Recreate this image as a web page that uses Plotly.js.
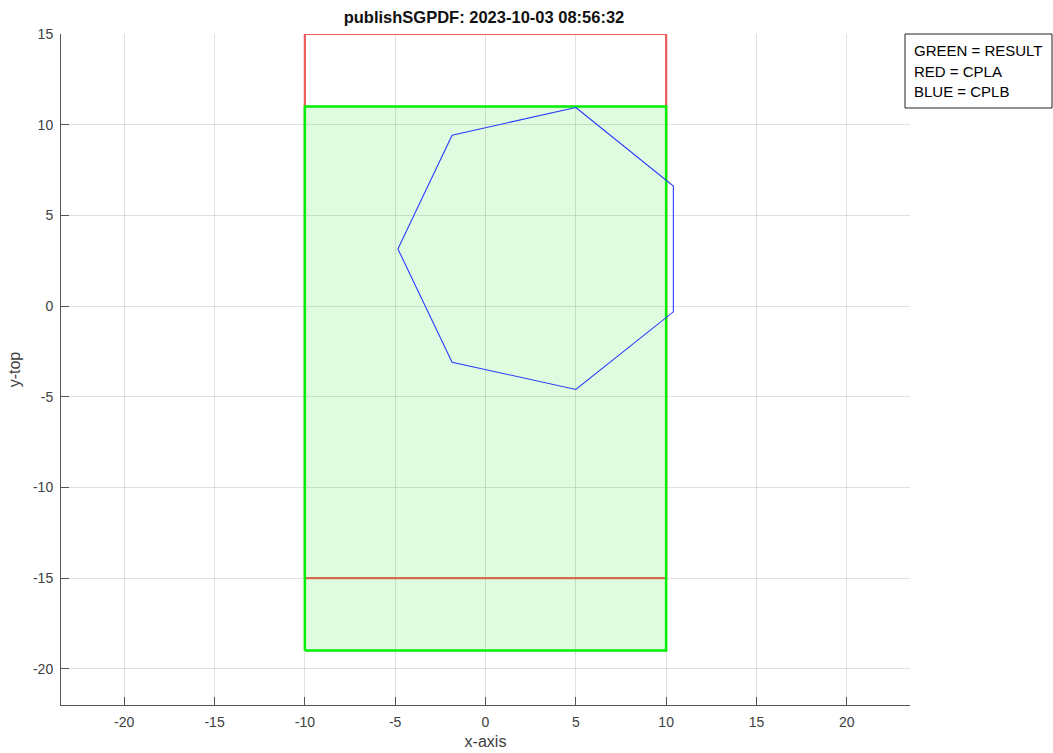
<!DOCTYPE html>
<html>
<head>
<meta charset="utf-8">
<script src="https://cdn.plot.ly/plotly-3.0.1.min.js"></script>
<style>html,body{margin:0;padding:0;background:#fff;}#chart{width:1053px;height:753px;}</style>
</head>
<body>
<div id="chart"></div>
<script>
// CPLA (red rectangle)
const redX = [-10, 10, 10, -10, -10];
const redY = [-15, -15, 15, 15, -15];
// RESULT (green rectangle)
const greenX = [-10, 10, 10, -10, -10];
const greenY = [-19, -19, 11, 11, -19];
// CPLB (blue heptagon)
const blueX = [5, 10.4, 10.4, 5, -1.85, -4.85, -1.85, 5];
const blueY = [10.95, 6.62, -0.32, -4.6, -3.1, 3.15, 9.42, 10.95];

const titleText = 'publishSGPDF: 2023-10-03 08:56:32';
const legendLines = ['GREEN = RESULT', 'RED = CPLA', 'BLUE = CPLB'];
const xTicks = [-20, -15, -10, -5, 0, 5, 10, 15, 20];
const yTicks = [-20, -15, -10, -5, 0, 5, 10, 15];

const FONT = 'Liberation Sans, Arial, Helvetica, sans-serif';

const traces = [
  {x: redX, y: redY, mode: 'lines', line: {color: '#ee5c5c', width: 2.2}, hoverinfo: 'skip'},
  {x: greenX, y: greenY, mode: 'lines', fill: 'toself', fillcolor: 'rgba(0,230,0,0.12)',
   line: {color: '#00ee00', width: 2.5}, hoverinfo: 'skip'},
  {x: blueX, y: blueY, mode: 'lines', line: {color: '#2a3cff', width: 1.1}, hoverinfo: 'skip'}
];

const boxL = 905, boxT = 34, boxB = 108, boxR = 1052;
const plotL = 61, plotR = 910, plotT = 34, plotB = 705;
const px2x = p => (p - plotL) / (plotR - plotL);
const px2y = p => (plotB - p) / (plotB - plotT);

const lineYs = [50.5, 71, 91.5];
const annotations = legendLines.map((t, i) => ({
  text: t, xref: 'paper', yref: 'paper', x: px2x(912), y: px2y(lineYs[i]),
  xanchor: 'left', yanchor: 'middle', showarrow: false,
  font: {family: FONT, size: 15, color: '#000'}
}));

const layout = {
  width: 1053, height: 753,
  margin: {l: plotL, r: 1053 - plotR, t: plotT, b: 753 - plotB, pad: 0},
  paper_bgcolor: '#fff', plot_bgcolor: '#fff',
  showlegend: false,
  font: {family: FONT, size: 14, color: '#404040'},
  title: {text: '<b>' + titleText + '</b>', x: (484 - plotL) / (plotR - plotL), xref: 'paper', xanchor: 'center',
          y: 1 - 17 / 753, yanchor: 'middle', font: {family: FONT, size: 16.5, color: '#111'}},
  xaxis: {
    range: [-23.5, 23.5], tickvals: xTicks, ticktext: xTicks.map(String),
    showgrid: true, gridcolor: 'rgba(0,0,0,0.12)', gridwidth: 1, zeroline: false,
    showline: true, linecolor: '#555', linewidth: 1,
    ticks: 'inside', ticklen: 8, tickcolor: '#555', tickwidth: 1,
    ticklabelstandoff: 4,
    tickfont: {family: FONT, size: 14, color: '#404040'},
    title: {text: 'x-axis', font: {family: FONT, size: 16, color: '#404040'}, standoff: 7}
  },
  yaxis: {
    range: [-22, 15], tickvals: yTicks, ticktext: yTicks.map(String),
    showgrid: true, gridcolor: 'rgba(0,0,0,0.12)', gridwidth: 1, zeroline: false,
    showline: true, linecolor: '#555', linewidth: 1,
    ticks: 'inside', ticklen: 8, tickcolor: '#555', tickwidth: 1,
    ticklabelstandoff: 4,
    tickfont: {family: FONT, size: 14, color: '#404040'},
    title: {text: 'y-top', font: {family: FONT, size: 16, color: '#404040'}, standoff: 8}
  },
  shapes: [{
    type: 'rect', xref: 'paper', yref: 'paper',
    x0: px2x(boxL), x1: px2x(boxR), y0: px2y(boxB), y1: px2y(boxT),
    line: {color: '#222', width: 1}, fillcolor: '#fff', layer: 'above'
  }],
  annotations: annotations
};

Plotly.newPlot('chart', traces, layout, {displayModeBar: false, staticPlot: true});
</script>
</body>
</html>
